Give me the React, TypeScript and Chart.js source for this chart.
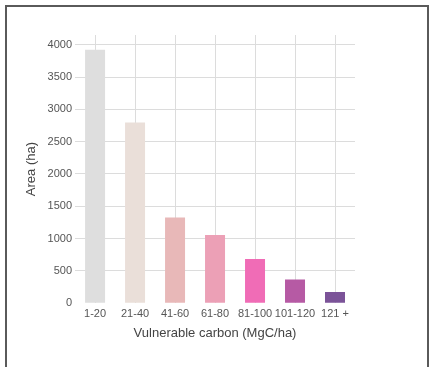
import React, { useEffect, useRef } from "react";
import { Chart, registerables } from "chart.js";

Chart.register(...registerables);

const categories = ["1-20", "21-40", "41-60", "61-80", "81-100", "101-120", "121 +"];
const areaValues = [3920, 2795, 1328, 1054, 682, 367, 175];
const barColors = ["#dedede", "#eadfd9", "#e8b8b8", "#eca0b6", "#f06cb6", "#b65aa4", "#7b5398"];
const yTickValues = [0, 500, 1000, 1500, 2000, 2500, 3000, 3500, 4000];
const xTitle = "Vulnerable carbon (MgC/ha)";
const yTitle = "Area (ha)";

export default function App() {
  const ref = useRef<HTMLCanvasElement | null>(null);
  useEffect(() => {
    if (!ref.current) return;
    const font = "'Liberation Sans', Arial, sans-serif";
    const chart = new Chart(ref.current, {
      type: "bar",
      data: {
        labels: categories,
        datasets: [
          {
            data: areaValues,
            backgroundColor: barColors,
            barPercentage: 0.5,
            categoryPercentage: 1,
          },
        ],
      },
      options: {
        animation: false,
        responsive: false,
        maintainAspectRatio: false,
        layout: { padding: { left: 21, right: 81, top: 35, bottom: 26 } },
        plugins: { legend: { display: false }, tooltip: { enabled: false } },
        scales: {
          x: {
            grid: { color: "#dcdcdc", drawTicks: false, offset: false },
            border: { display: false },
            ticks: { color: "#555", font: { family: font, size: 11 }, padding: 4, maxRotation: 0, autoSkip: false },
            title: { display: true, text: xTitle, color: "#444", font: { family: font, size: 13 }, padding: { top: 1, bottom: 0 } },
          },
          y: {
            min: 0,
            max: 4150,
            afterBuildTicks: (scale: any) => {
              scale.ticks = yTickValues.map((v) => ({ value: v }));
            },
            grid: {
              color: (ctx: any) => (ctx.tick && ctx.tick.value === 0 ? "rgba(0,0,0,0)" : "#dcdcdc"),
              drawTicks: false,
            },
            border: { display: false },
            ticks: {
              color: "#555",
              font: { family: font, size: 11 },
              padding: 3,
              callback: (v: any) => String(v),
            },
            title: { display: true, text: yTitle, color: "#444", font: { family: font, size: 13 }, padding: { top: 3, bottom: 5 } },
          },
        },
      },
    });
    return () => chart.destroy();
  }, []);
  return (
    <div style={{ position: "absolute", left: 0, top: 0, width: 436, height: 367, overflow: "hidden", background: "#fff" }}>
      <div
        style={{
          position: "absolute",
          left: 5,
          top: 5,
          width: 420,
          height: 400,
          border: "2px solid #5a5a5a",
        }}
      />
      <canvas ref={ref} width={436} height={367} style={{ position: "absolute", left: 0, top: 0, width: 436, height: 367 }} />
    </div>
  );
}
